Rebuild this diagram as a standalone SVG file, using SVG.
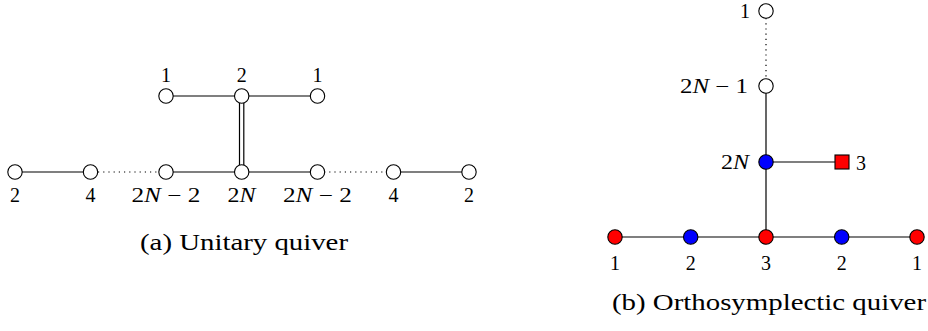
<svg xmlns="http://www.w3.org/2000/svg" width="928" height="331" viewBox="0 0 928 331">
<style>
.e{stroke:#000;stroke-width:1.2;fill:none}
.d{stroke:#000;stroke-width:1.2;fill:none;stroke-dasharray:1.2 4}
.n{stroke:#000;stroke-width:1.1;fill:#fff}
.b{stroke:#000;stroke-width:1.1;fill:#00f}
.r{stroke:#000;stroke-width:1.1;fill:#f00}
.c{text-anchor:middle}
.e2{text-anchor:end}
.cap{font-size:23px}
.m{font-style:italic}
</style>
<rect width="928" height="331" fill="#fff"/>
<g id="connectors">
<line class="e" x1="166" y1="96" x2="317" y2="96"/>
<line class="e" x1="15" y1="172" x2="91" y2="172"/>
<line class="d" x1="98" y1="172" x2="159" y2="172"/>
<line class="e" x1="166" y1="172" x2="317" y2="172"/>
<line class="d" x1="324" y1="172" x2="386" y2="172"/>
<line class="e" x1="393" y1="172" x2="469" y2="172"/>
<line class="e" x1="239.5" y1="103" x2="239.5" y2="165"/>
<line class="e" x1="243.8" y1="103" x2="243.8" y2="165"/>
<line class="d" x1="766" y1="18" x2="766" y2="79"/>
<line class="e" x1="766" y1="86" x2="766" y2="237"/>
<line class="e" x1="766" y1="162" x2="842" y2="162"/>
<line class="e" x1="615" y1="237" x2="917" y2="237"/>
</g>
<g font-family="Liberation Serif, DejaVu Serif, serif" font-size="20" fill="#000">
<g id="a-top1"><circle class="n" cx="166" cy="96" r="7.2"/><text class="c" x="166" y="82">1</text></g>
<g id="a-top2"><circle class="n" cx="241.7" cy="96" r="7.2"/><text class="c" x="241.7" y="82">2</text></g>
<g id="a-top3"><circle class="n" cx="317.5" cy="96" r="7.2"/><text class="c" x="317.5" y="82">1</text></g>
<g id="a-b1"><circle class="n" cx="15" cy="172" r="7.2"/><text class="c" x="15" y="202">2</text></g>
<g id="a-b2"><circle class="n" cx="90.5" cy="172" r="7.2"/><text class="c" x="90.5" y="202">4</text></g>
<g id="a-b3"><circle class="n" cx="166" cy="172" r="7.2"/><text class="c" x="166" y="202" textLength="69" lengthAdjust="spacingAndGlyphs">2<tspan class="m">N</tspan> − 2</text></g>
<g id="a-b4"><circle class="n" cx="241.7" cy="172" r="7.2"/><text class="c" x="241.5" y="202" textLength="28" lengthAdjust="spacingAndGlyphs">2<tspan class="m">N</tspan></text></g>
<g id="a-b5"><circle class="n" cx="317.5" cy="172" r="7.2"/><text class="c" x="317.5" y="202" textLength="69" lengthAdjust="spacingAndGlyphs">2<tspan class="m">N</tspan> − 2</text></g>
<g id="a-b6"><circle class="n" cx="393.5" cy="172" r="7.2"/><text class="c" x="393.5" y="202">4</text></g>
<g id="a-b7"><circle class="n" cx="469" cy="172" r="7.2"/><text class="c" x="469" y="202">2</text></g>
<text class="c cap" x="244" y="250" textLength="208" lengthAdjust="spacingAndGlyphs">(a) Unitary quiver</text>
<g id="b-top"><circle class="n" cx="766" cy="11" r="7.2"/><text class="e2" x="750" y="18">1</text></g>
<g id="b-2n1"><circle class="n" cx="766" cy="86" r="7.2"/><text class="e2" x="748" y="93" textLength="68" lengthAdjust="spacingAndGlyphs">2<tspan class="m">N</tspan> − 1</text></g>
<g id="b-2n"><circle class="b" cx="766" cy="162" r="7.2"/><text class="e2" x="749" y="169" textLength="28" lengthAdjust="spacingAndGlyphs">2<tspan class="m">N</tspan></text></g>
<g id="b-flav"><rect class="r" x="835" y="155" width="14" height="14"/><text x="856" y="170">3</text></g>
<g id="b-1"><circle class="r" cx="615" cy="237" r="7.2"/><text class="c" x="615" y="270">1</text></g>
<g id="b-2"><circle class="b" cx="690.7" cy="237" r="7.2"/><text class="c" x="690.7" y="270">2</text></g>
<g id="b-3"><circle class="r" cx="766" cy="237" r="7.2"/><text class="c" x="766" y="270">3</text></g>
<g id="b-4"><circle class="b" cx="841.7" cy="237" r="7.2"/><text class="c" x="841.7" y="270">2</text></g>
<g id="b-5"><circle class="r" cx="917" cy="237" r="7.2"/><text class="c" x="917" y="270">1</text></g>
<text class="c cap" x="769" y="310" textLength="314" lengthAdjust="spacingAndGlyphs">(b) Orthosymplectic quiver</text>
</g>
</svg>
